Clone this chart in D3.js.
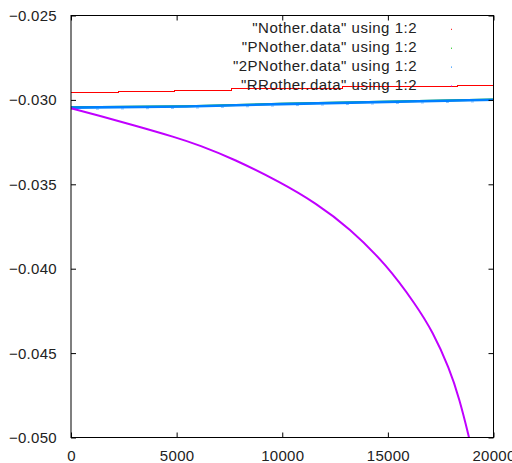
<!DOCTYPE html>
<html><head><meta charset="utf-8">
<script src="https://cdn.jsdelivr.net/npm/d3@7"></script>
<style>body{margin:0;background:#fff}svg{display:block}text{font-family:"Liberation Sans",Arial,sans-serif;font-size:15px;letter-spacing:0.3px;fill:#222}</style>
</head><body>
<svg id="c" width="512" height="463"></svg>
<script>
const seriesNames = ['"Nother.data" using 1:2','"PNother.data" using 1:2','"2PNother.data" using 1:2','"RRother.data" using 1:2'];
const seriesColors = ["#ff0000","#00c000","#0080ff","#c000ff"];
const xTicks = [0,5000,10000,15000,20000];
const yTicks = [-0.050,-0.045,-0.040,-0.035,-0.030,-0.025];
// Nother (red) – slowly rising, pixel-stepped
const notherX = [0,2270,4900,7580,12870,18310,20000];
const notherY = [-0.02956,-0.02950,-0.02942,-0.02931,-0.02919,-0.02912,-0.02912];
// PNother (green) – mostly hidden below blue
const pnX = [0,5450,9900,20000];
const pnY = [-0.03044,-0.03037,-0.03023,-0.02997];
// 2PNother (blue)
const p2X = [0,5450,9900,20000];
const p2Y = [-0.03046,-0.03039,-0.03025,-0.02999];
// RRother (purple)
const rrX = [0,1340,2921,4970,6073,7654,9941,11598,13174,14944,16331,17122,17908,18381,18855,18950];
const rrY = [-0.03050,-0.03094,-0.03148,-0.03222,-0.03268,-0.03347,-0.03489,-0.03612,-0.03758,-0.03978,-0.04215,-0.04373,-0.04590,-0.04768,-0.05005,-0.05060];

const svg = d3.select("#c");
const L=71, R=493.5, T=15.5, B=437.5;
const x = d3.scaleLinear().domain([0,20000]).range([L,R]);
const y = d3.scaleLinear().domain([-0.050,-0.025]).range([B,T]);

svg.append("clipPath").attr("id","pc").append("rect").attr("x",L).attr("y",T).attr("width",R-L).attr("height",B-T);
const plot = svg.append("g").attr("clip-path","url(#pc)");

function pts(xs,ys){return xs.map((v,i)=>[v,ys[i]]);}
const line = d3.line().x(d=>x(d[0])).y(d=>y(d[1]));

plot.append("path").datum(pts(pnX,pnY)).attr("d",line).attr("fill","none").attr("stroke",seriesColors[1]).attr("stroke-width",2);
plot.append("path").datum(pts(p2X,p2Y)).attr("d",line).attr("fill","none").attr("stroke","#8cc4ff").attr("stroke-width",1).attr("stroke-dasharray","3 22").attr("transform","translate(0,1.8)");
plot.append("path").datum(pts(p2X,p2Y)).attr("d",line).attr("fill","none").attr("stroke",seriesColors[2]).attr("stroke-width",2.6);
plot.append("path").datum(pts(notherX,notherY)).attr("d",d3.line().curve(d3.curveStepAfter).x(d=>x(d[0])).y(d=>y(d[1]))).attr("fill","none").attr("stroke",seriesColors[0]).attr("stroke-width",1).attr("shape-rendering","crispEdges");
plot.append("path").datum(pts(rrX,rrY)).attr("d",d3.line().curve(d3.curveBasis).x(d=>x(d[0])).y(d=>y(d[1]))).attr("fill","none").attr("stroke",seriesColors[3]).attr("stroke-width",2);

// border
svg.append("rect").attr("x",L).attr("y",T).attr("width",R-L).attr("height",B-T).attr("fill","none").attr("stroke","#000").attr("stroke-width",1);

// axes with inward ticks
const tk=5;
const axB = d3.axisBottom(x).tickValues(xTicks).tickSize(-tk).tickFormat(d3.format("d"));
const gb = svg.append("g").attr("transform",`translate(0,${B})`).call(axB);
const axT = d3.axisTop(x).tickValues(xTicks).tickSize(-tk).tickFormat("");
const gt = svg.append("g").attr("transform",`translate(0,${T})`).call(axT);
const axL = d3.axisLeft(y).tickValues(yTicks).tickSize(-tk).tickPadding(tk+9).tickFormat(d3.format(".3f"));
const gl = svg.append("g").attr("transform",`translate(${L},0)`).call(axL);
const axR = d3.axisRight(y).tickValues(yTicks).tickSize(-tk).tickFormat("");
const gr = svg.append("g").attr("transform",`translate(${R},0)`).call(axR);
[gb,gt,gl,gr].forEach(g=>{g.select(".domain").remove();g.selectAll(".tick line").attr("stroke","#000");g.selectAll("text").attr("font-family",null).attr("font-size",null).attr("fill","#222");});
gl.selectAll("text").attr("dy",null).attr("y",5);
gb.selectAll("text").attr("dy",null).attr("y",23.5);

// legend
const lg = svg.append("g");
seriesNames.forEach((n,i)=>{
  const by = 33.3 + i*18.9;
  lg.append("text").attr("x",417).attr("y",by).attr("text-anchor","end").style("letter-spacing","0.5px").text(n);
  lg.append("rect").attr("x",451).attr("y",by-4.5).attr("width",1).attr("height",1).attr("fill",seriesColors[i]);
});
</script>
</body></html>
